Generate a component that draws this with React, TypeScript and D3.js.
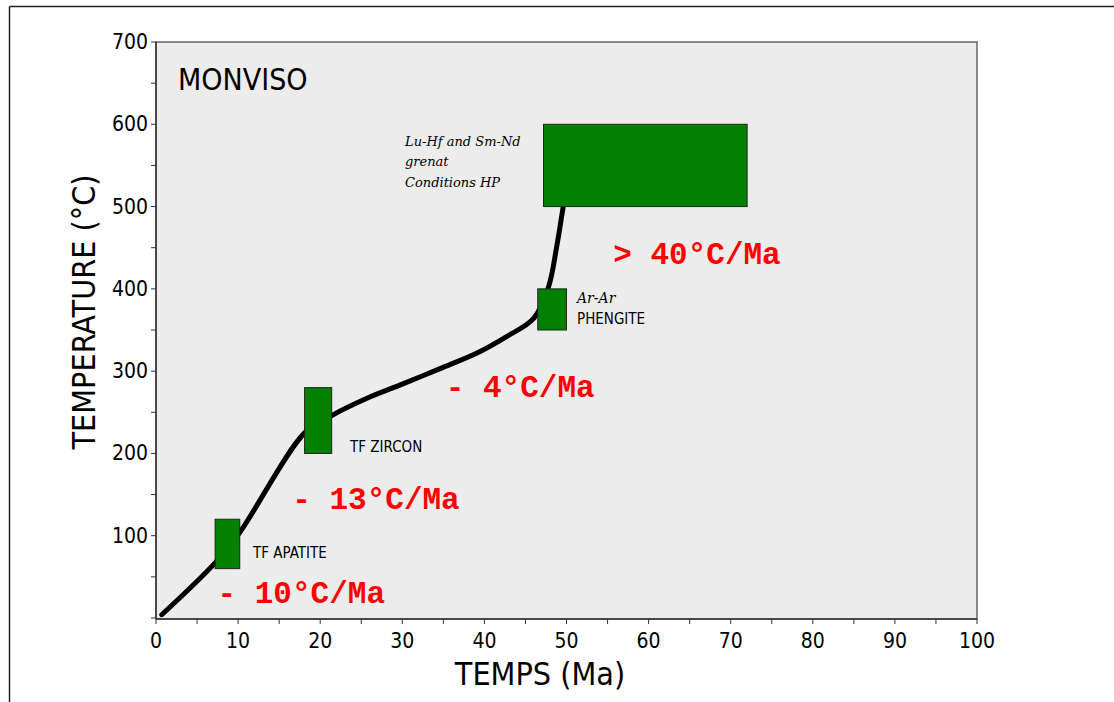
import React from "react";
import * as d3 from "d3";

const W = 1114;
const H = 702;

// Cooling path (time Ma, temperature °C)
const pathTime = [0.7, 7.2, 10.2, 18.1, 21.4, 25.7, 29.7, 34.6, 39.1, 42.7, 46, 47.8, 48.8, 49.6, 50.4];
const pathTemp = [4, 67, 104, 225, 246, 267, 283, 303, 322, 342, 364, 402, 451, 500, 550];

// Dating boxes
const boxNames = ["TF APATITE", "TF ZIRCON", "PHENGITE", "HP"];
const boxX0 = [7.2, 18.1, 46.5, 47.2];
const boxX1 = [10.2, 21.4, 50, 72];
const boxY0 = [60, 200, 350, 500];
const boxY1 = [120, 280, 400, 600];

// Rates
const rateLabels = ["- 10°C/Ma", "- 13°C/Ma", "- 4°C/Ma", "> 40°C/Ma"];
const rateX = [7.5, 16.6, 35.3, 55.7];
const rateY = [18, 133, 268, 430];

const xTicks = [0, 10, 20, 30, 40, 50, 60, 70, 80, 90, 100];
const yTicks = [100, 200, 300, 400, 500, 600, 700];

const hand = "'DejaVu Sans Condensed', 'DejaVu Sans', sans-serif";
const script = "'DejaVu Serif', 'Liberation Serif', serif";
const mono = "'Liberation Mono', 'Courier New', monospace";

export default function App() {
  const left = 156, right = 977, top = 42, bottom = 618;
  const x = d3.scaleLinear().domain([0, 100]).range([left, right]);
  const y = d3.scaleLinear().domain([0, 700]).range([bottom, top]);

  const pts: [number, number][] = pathTime.map((t, i) => [t, pathTemp[i]]);
  const line = d3
    .line<[number, number]>()
    .x((d) => x(d[0]))
    .y((d) => y(d[1]))
    .curve(d3.curveCatmullRom.alpha(0.5));

  const minorX = d3.range(0, 101, 5);
  const minorY = d3.range(0, 701, 50);

  return (
    <svg
      width={W}
      height={H}
      style={{ position: "absolute", left: 0, top: 0, background: "#fff" }}
    >
      {/* outer frame */}
      <line x1={9.5} y1={6.5} x2={W} y2={6.5} stroke="#222" strokeWidth={1.5} />
      <line x1={9.5} y1={6.5} x2={9.5} y2={H} stroke="#222" strokeWidth={1.5} />

      {/* plot area */}
      <rect x={left} y={top} width={right - left} height={bottom - top + 1} fill="#ececec" stroke="#666" strokeWidth={1.5} />
      <line x1={left} y1={top} x2={left} y2={bottom + 1} stroke="#333" strokeWidth={1.5} />
      <line x1={left} y1={bottom + 1} x2={right} y2={bottom + 1} stroke="#333" strokeWidth={1.5} />

      {/* ticks */}
      {minorX.map((v) => (
        <line key={"tx" + v} x1={x(v)} x2={x(v)} y1={bottom + 1} y2={bottom + 6} stroke="#333" strokeWidth={1} />
      ))}
      {minorY.map((v) => (
        <line key={"ty" + v} x1={left - 5} x2={left} y1={y(v)} y2={y(v)} stroke="#333" strokeWidth={1} />
      ))}
      {xTicks.map((v) => (
        <text key={"lx" + v} x={x(v)} y={648} textAnchor="middle" fontFamily={hand} fontSize={21} fill="#000">
          {v}
        </text>
      ))}
      {yTicks.map((v) => (
        <text key={"ly" + v} x={left - 8} y={y(v) + 7} textAnchor="end" fontFamily={hand} fontSize={21} fill="#000">
          {v}
        </text>
      ))}

      {/* axis titles */}
      <text x={540} y={685} textAnchor="middle" fontFamily={hand} fontSize={32} fill="#000">
        TEMPS (Ma)
      </text>
      <text
        transform={`translate(95, 312) rotate(-90)`}
        textAnchor="middle"
        fontFamily={hand}
        fontSize={32}
        fill="#000"
      >
        TEMPERATURE (°C)
      </text>

      {/* title */}
      <text x={178} y={90} fontFamily={hand} fontSize={30} fill="#000">
        MONVISO
      </text>

      {/* path */}
      <path d={line(pts) || ""} fill="none" stroke="#000" strokeWidth={5} strokeLinecap="round" strokeLinejoin="round" />

      {/* boxes */}
      {boxNames.map((n, i) => (
        <rect
          key={n}
          x={x(boxX0[i])}
          y={y(boxY1[i])}
          width={x(boxX1[i]) - x(boxX0[i])}
          height={y(boxY0[i]) - y(boxY1[i])}
          fill="#008000"
          stroke="#222"
          strokeWidth={1}
        />
      ))}

      {/* box labels */}
      <text x={253} y={558} fontFamily={hand} fontSize={15} fill="#000">TF APATITE</text>
      <text x={350} y={452} fontFamily={hand} fontSize={15} fill="#000">TF ZIRCON</text>
      <text x={577} y={303} fontFamily={script} fontStyle="italic" fontSize={14} fill="#000">Ar-Ar</text>
      <text x={577} y={324} fontFamily={hand} fontSize={15} fill="#000">PHENGITE</text>
      <text x={405} y={146} fontFamily={script} fontStyle="italic" fontSize={13} fill="#000">Lu-Hf and Sm-Nd</text>
      <text x={405} y={166} fontFamily={script} fontStyle="italic" fontSize={13} fill="#000">grenat</text>
      <text x={405} y={187} fontFamily={script} fontStyle="italic" fontSize={13} fill="#000">Conditions HP</text>

      {/* rates */}
      {rateLabels.map((r, i) => (
        <text
          key={r}
          x={x(rateX[i])}
          y={y(rateY[i])}
          fontFamily={mono}
          fontWeight="bold"
          fontSize={31}
          fill="#ff0000"
          xmlSpace="preserve"
          style={{ whiteSpace: "pre" }}
        >
          {r}
        </text>
      ))}
    </svg>
  );
}
